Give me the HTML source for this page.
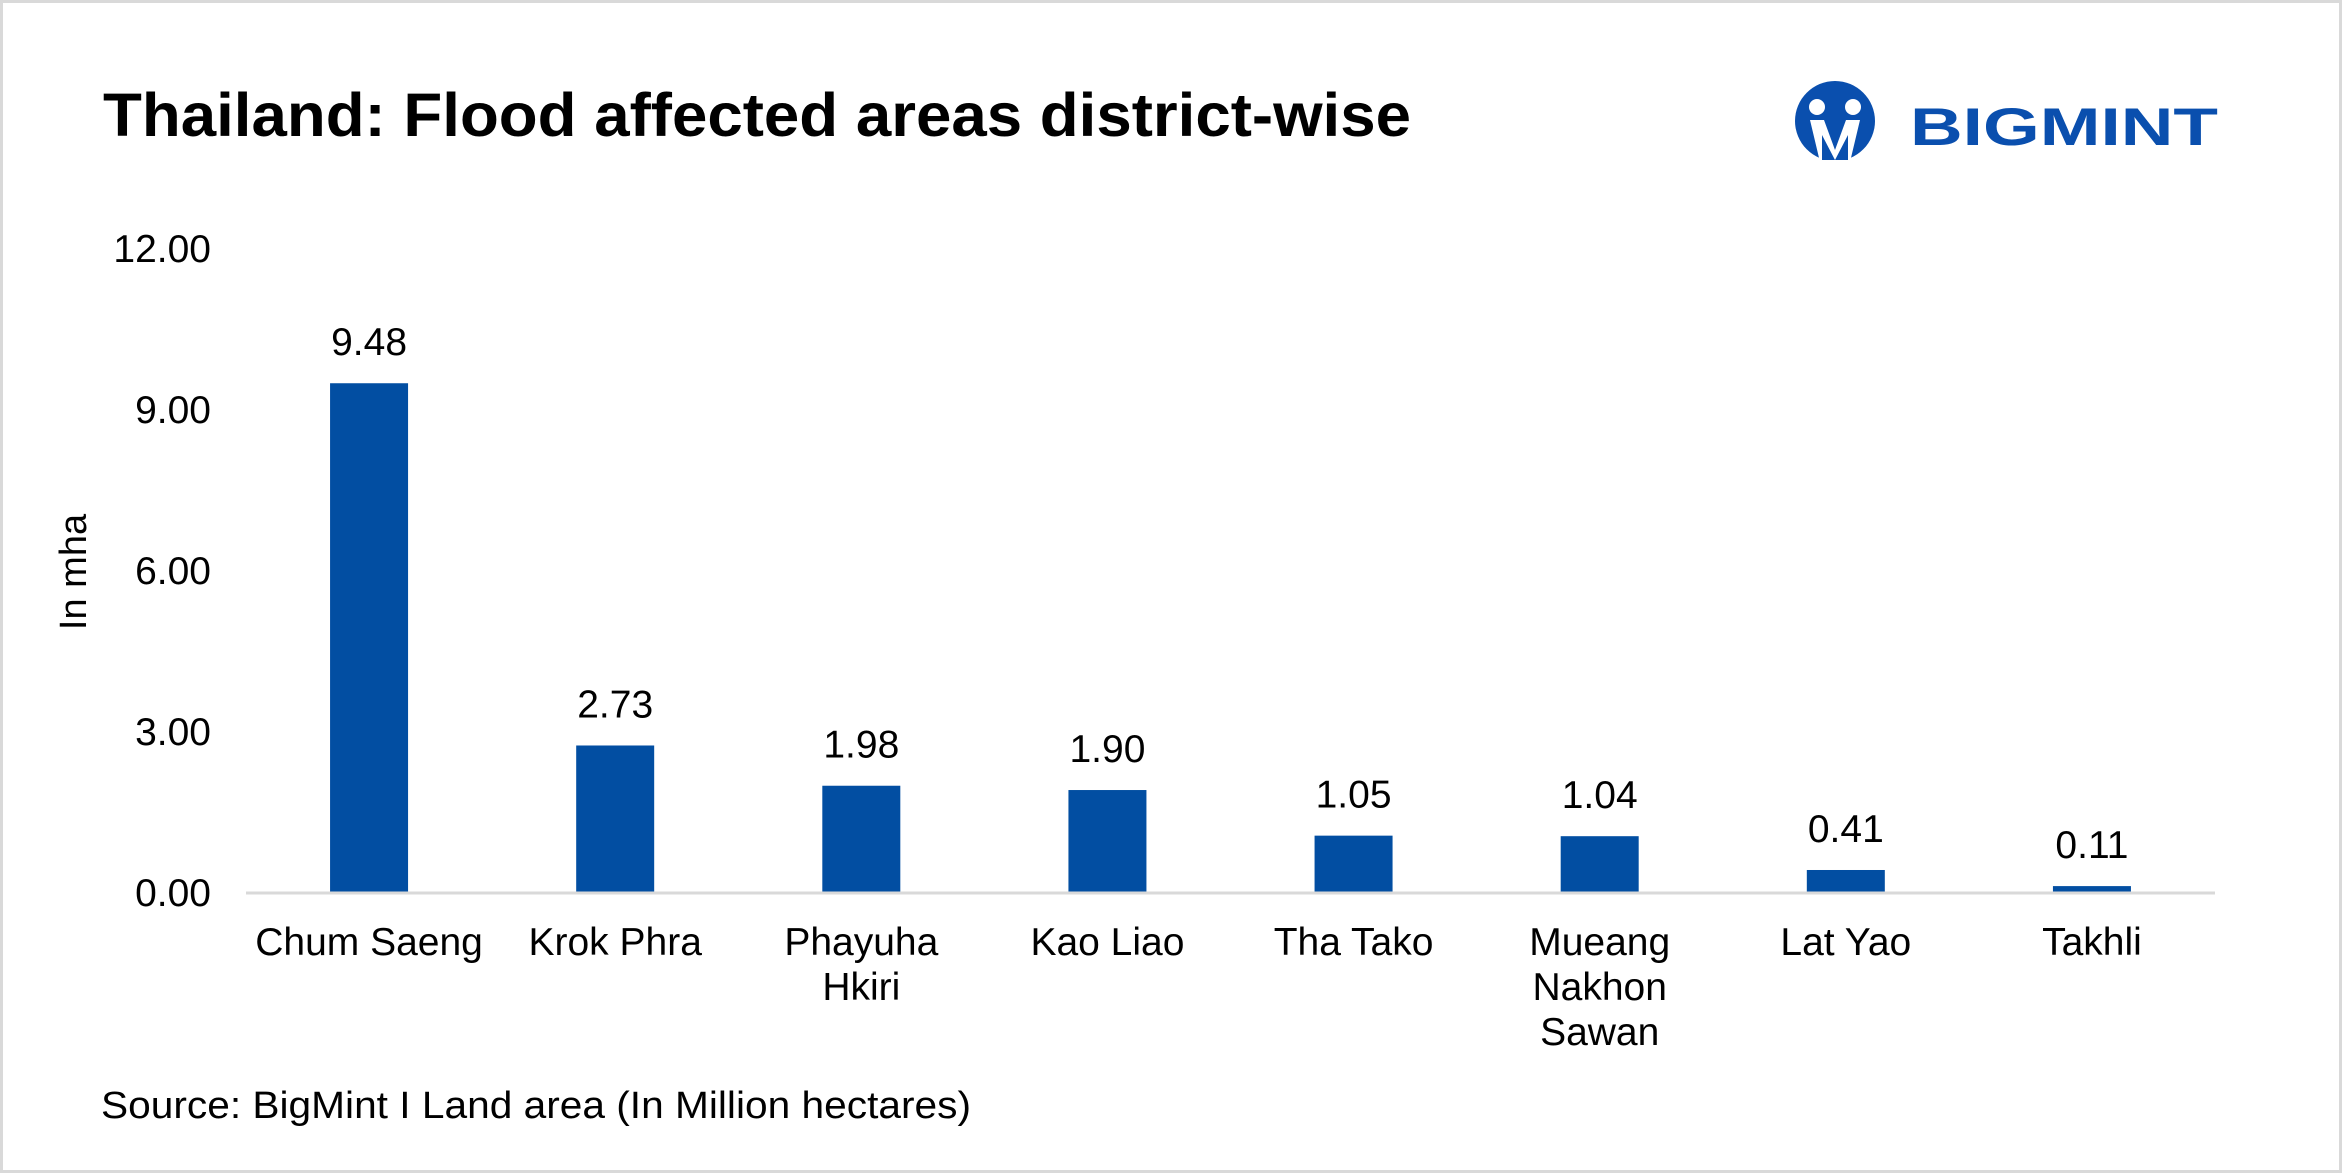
<!DOCTYPE html>
<html><head><meta charset="utf-8"><style>
html,body{margin:0;padding:0;background:#fff}
svg{display:block;font-family:"Liberation Sans",Arial,sans-serif}
</style></head><body>
<svg width="2342" height="1173" viewBox="0 0 2342 1173">
<rect x="1.5" y="1.5" width="2339" height="1170" fill="#fff" stroke="#d9d9d9" stroke-width="3"/>
<text x="103" y="136" font-size="61" font-weight="bold" fill="#000" textLength="1308" lengthAdjust="spacingAndGlyphs">Thailand: Flood affected areas district-wise</text>
<g>
<circle cx="1835" cy="121" r="40" fill="#0a4fae"/>
<circle cx="1817" cy="107" r="8" fill="#fff"/>
<circle cx="1853" cy="107" r="8" fill="#fff"/>
<path d="M1810 120 L1824 120 L1835 150 L1846 120 L1860 120 L1850 162 L1820 162 Z" fill="#fff"/>
<path d="M1822 135 L1835 160 L1848 135 L1848 160 L1822 160 Z" fill="#0a4fae"/>
<text x="1910" y="145" font-size="53" font-weight="bold" fill="#0a4fae" textLength="308" lengthAdjust="spacingAndGlyphs">BIGMINT</text>
</g>
<text transform="translate(86,572) rotate(-90)" text-anchor="middle" font-size="38" fill="#000">In mha</text>
<g id="yticks"></g>
<g id="bars"></g>
<line x1="246" y1="893" x2="2215" y2="893" stroke="#d9d9d9" stroke-width="3"/>
<text x="101" y="1118" font-size="38" fill="#000" textLength="870" lengthAdjust="spacingAndGlyphs">Source: BigMint I Land area (In Million hectares)</text>
</svg>
<script>
const categories=[["Chum Saeng"],["Krok Phra"],["Phayuha","Hkiri"],["Kao Liao"],["Tha Tako"],["Mueang","Nakhon","Sawan"],["Lat Yao"],["Takhli"]];
const values=[9.48,2.73,1.98,1.90,1.05,1.04,0.41,0.11];
const tickValues=[0,3,6,9,12];
const tickLabels=["0.00","3.00","6.00","9.00","12.00"];
const NS="http://www.w3.org/2000/svg";
const x0=246,x1=2215,y0=892,yTop=248,yMax=12;
const band=(x1-x0)/categories.length;
function yScale(v){return y0-(v/yMax)*(y0-yTop);}
function xCenter(i){return x0+band*(i+0.5);}
const yt=document.getElementById('yticks');
tickValues.forEach((v,i)=>{
 const t=document.createElementNS(NS,'text');
 t.setAttribute('x',211);t.setAttribute('y',yScale(v)+14);
 t.setAttribute('text-anchor','end');t.setAttribute('font-size','39');
 t.textContent=tickLabels[i];
 
 
 yt.appendChild(t);
});
const bg=document.getElementById('bars');
const bw=78;
values.forEach((v,i)=>{
 const cx=xCenter(i);
 const r=document.createElementNS(NS,'rect');
 r.setAttribute('x',cx-bw/2);r.setAttribute('y',yScale(v));
 r.setAttribute('width',bw);r.setAttribute('height',y0-yScale(v));
 r.setAttribute('fill','#024ea2');
 
 
 bg.appendChild(r);
 const l=document.createElementNS(NS,'text');
 l.setAttribute('x',cx);l.setAttribute('y',yScale(v)-28);
 l.setAttribute('text-anchor','middle');l.setAttribute('font-size','39');
 l.textContent=v.toFixed(2);
 
 
 bg.appendChild(l);
 categories[i].forEach((line,j)=>{
  const c=document.createElementNS(NS,'text');
  c.setAttribute('x',cx);c.setAttribute('y',955+j*45);
  c.setAttribute('text-anchor','middle');c.setAttribute('font-size','39');
  c.textContent=line;
  
  
  bg.appendChild(c);
 });
});
</script>
</body></html>
